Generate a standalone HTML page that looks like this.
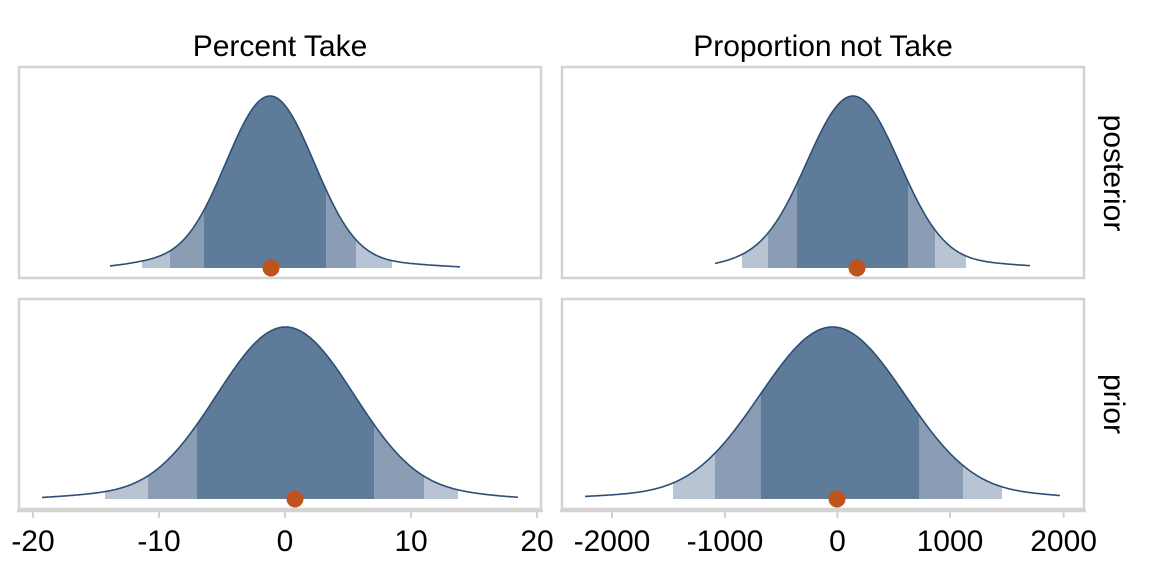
<!DOCTYPE html>
<html><head><meta charset="utf-8"><style>
body{margin:0;background:#fff;}
svg{display:block;font-family:"Liberation Sans",sans-serif;}
</style></head><body>
<svg id="s" width="1152" height="576" viewBox="0 0 1152 576" xmlns="http://www.w3.org/2000/svg">
<defs></defs>
<g id="g"></g>
<text x="280" y="56" font-size="30" text-anchor="middle">Percent Take</text>
<text x="823" y="56" font-size="30" text-anchor="middle">Proportion not Take</text>
<text x="1094" y="173" font-size="30" text-anchor="middle" transform="rotate(90 1094 173)" dy="-10">posterior</text>
<text x="1094" y="404" font-size="30" text-anchor="middle" transform="rotate(90 1094 404)" dy="-10">prior</text>
<g font-size="30" text-anchor="middle">
<text x="33" y="551">-20</text><text x="159" y="551">-10</text><text x="285" y="551">0</text><text x="411" y="551">10</text><text x="537" y="551">20</text>
<text x="612" y="551">-2000</text><text x="725" y="551">-1000</text><text x="837.5" y="551">0</text><text x="950" y="551">1000</text><text x="1063.6" y="551">2000</text>
</g>
</svg>
<script>
var NS="http://www.w3.org/2000/svg",g=document.getElementById('g'),defs=document.querySelector('defs');
function el(t,a,p){var e=document.createElementNS(NS,t);for(var k in a)e.setAttribute(k,a[k]);(p||g).appendChild(e);return e;}
[[19,67,522,211],[562,67,522,211],[19,299,522,210],[562,299,522,210]].forEach(function(r){el('rect',{x:r[0],y:r[1],width:r[2],height:r[3],fill:'none',stroke:'#d3d3d3','stroke-width':2.5});});
el('line',{x1:17,y1:511,x2:543,y2:511,stroke:'#d3d3d3','stroke-width':2.5});
el('line',{x1:560,y1:511,x2:1086,y2:511,stroke:'#d3d3d3','stroke-width':2.5});
[33,159,285,411,537,612,725,837.5,950,1063.6].forEach(function(x){el('line',{x1:x,y1:511,x2:x,y2:518,stroke:'#d3d3d3','stroke-width':2});});
function panel(id,base,peak,comps,x0,x1,bands,pt){
  var f=function(x){var s=0;comps.forEach(function(c){s+=c[0]*Math.exp(-0.5*Math.pow((x-c[1])/c[2],2));});return s;};
  var mx=0;for(var x=x0;x<=x1;x++)mx=Math.max(mx,f(x));
  var h=base-peak,pts=[];
  for(var x=x0;x<=x1;x+=1)pts.push([x,base-f(x)/mx*h]);
  var d='M'+x0+','+base+' '+pts.map(function(p){return 'L'+p[0]+','+p[1].toFixed(1);}).join(' ')+' L'+x1+','+base+'Z';
  var line='M'+pts.map(function(p){return p[0]+','+p[1].toFixed(1);}).join(' L');
  var cp=el('clipPath',{id:id},defs);el('path',{d:d},cp);
  var cols=['#b8c4d3','#8a9db5','#5e7b9a'];
  bands.forEach(function(b,i){el('rect',{x:b[0],y:peak-5,width:b[1]-b[0],height:base-peak+5,fill:cols[i],'clip-path':'url(#'+id+')'});});
  el('path',{d:line,fill:'none',stroke:'#2c4f75','stroke-width':1.6});
  el('circle',{cx:pt,cy:base,r:8.5,fill:'#c0531b'});
}
panel('a',268,96,[[1,256,42],[1,284,42],[0.04,400,40],[0.05,150,30]],110,460,[[142,392],[170,356],[204,326]],271);
panel('b',499,327,[[1,258,62],[1.03,312,62],[0.03,470,40],[0.03,90,40]],42,518,[[105,458],[148,424],[197,374]],295);
panel('c',268,96,[[1,838,44],[1,868,44],[0.04,740,30],[0.04,990,40]],715,1030,[[742,966],[768,935],[797,908]],857);
panel('d',499,327,[[1,805,66],[1,860,66],[0.03,620,50],[0.03,1040,40]],585,1060,[[673,1002],[715,963],[761,919]],837);
</script>
</body></html>
